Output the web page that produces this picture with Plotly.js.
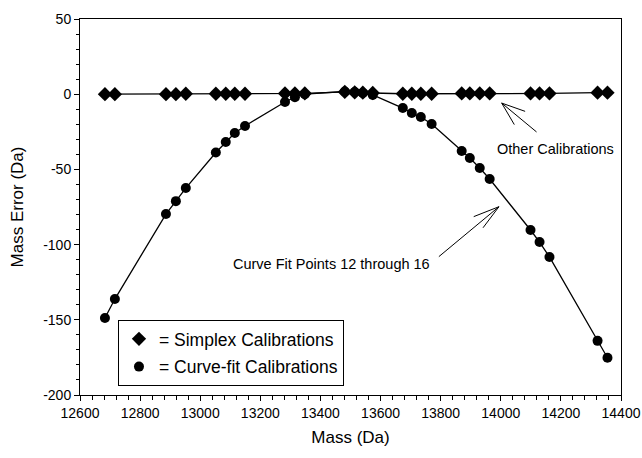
<!DOCTYPE html>
<html>
<head>
<meta charset="utf-8">
<script src="https://cdn.plot.ly/plotly-3.0.1.min.js"></script>
<style>html,body{margin:0;padding:0;background:#fff;}#chart{width:642px;height:458px;}</style>
</head>
<body>
<div id="chart"></div>
<script>
const mass = [12683, 12716, 12886, 12919, 12952, 13052, 13085, 13115, 13149, 13282, 13315, 13348,
  13481, 13514, 13541, 13574, 13674, 13704, 13734, 13770, 13870, 13897, 13930, 13963,
  14099, 14129, 14162, 14322, 14355];
const simplexError = [0, 0, 0, 0, 0.3, 0.3, 0.3, 0.3, 0.3, 0.5, 0.5, 0.5,
  1.5, 1.2, 1.0, 0.8, 0.3, 0.3, 0.3, 0.3, 0.5, 0.5, 0.5, 0.5,
  0.5, 0.5, 0.5, 1.0, 1.0];
const curveFitError = [-148.8, -136.2, -79.7, -71.1, -62.4, -38.8, -31.8, -25.8, -21.1, -5.2, -2, 0,
  1.8, 1.5, 0.8, -0.5, -9.2, -12.5, -15.2, -19.8, -37.8, -42.4, -49.1, -56.4,
  -90.3, -98.3, -108.2, -164, -175.2];
const yTickVals = [50, 0, -50, -100, -150, -200];
const yTickText = ["50", "0", "-50", "-100", "-150", "-200"];
const seriesNames = ["= Simplex Calibrations", "= Curve-fit Calibrations"];
const xTitle = "Mass (Da)";
const yTitle = "Mass Error (Da)";
const noteOther = "Other Calibrations";
const noteCurve = "Curve Fit Points 12 through 16";

const FONT = "Liberation Sans, Arial, Helvetica, sans-serif";

const traces = [
  {x: mass, y: curveFitError, mode: "lines+markers", showlegend: false,
   line: {color: "#000", width: 1.3}, marker: {symbol: "circle", size: 10, color: "#000"}},
  {x: mass, y: simplexError, mode: "lines+markers", showlegend: false,
   line: {color: "#000", width: 1.3}, marker: {symbol: "diamond", size: 11, color: "#000"}},
  {x: [null], y: [null], mode: "markers", name: seriesNames[0], legendgroup: "a",
   marker: {symbol: "diamond", size: 11, color: "#000"}},
  {x: [null], y: [null], mode: "markers", name: seriesNames[1], legendgroup: "b",
   marker: {symbol: "circle", size: 10, color: "#000"}}
];

function arrowShapes(tip, tail, a1, a2) {
  const s = {type: "line", xref: "x", yref: "y", line: {color: "#000", width: 1}};
  return [
    Object.assign({}, s, {x0: tail[0], y0: tail[1], x1: tip[0], y1: tip[1]}),
    Object.assign({}, s, {x0: tip[0], y0: tip[1], x1: a1[0], y1: a1[1]}),
    Object.assign({}, s, {x0: tip[0], y0: tip[1], x1: a2[0], y1: a2[1]})
  ];
}

const layout = {
  width: 642, height: 458,
  margin: {l: 80, r: 20.5, t: 19, b: 63, pad: 0},
  paper_bgcolor: "#fff", plot_bgcolor: "#fff",
  font: {family: FONT, color: "#000", size: 12},
  xaxis: {
    range: [12600, 14400], dtick: 200, tick0: 12600, tickformat: "d",
    showgrid: false, zeroline: false, showline: true, linecolor: "#000", linewidth: 1, mirror: true,
    ticks: "outside", ticklen: 5, tickwidth: 1, tickcolor: "#000",
    minor: {dtick: 40, ticks: "outside", ticklen: 4, tickwidth: 1, tickcolor: "#000", showgrid: false},
    tickfont: {size: 14, family: FONT},
    title: {text: xTitle, font: {size: 17, family: FONT}, standoff: 11}
  },
  yaxis: {
    range: [-200, 50], tickmode: "array", tickvals: yTickVals, ticktext: yTickText,
    showgrid: false, zeroline: false, showline: true, linecolor: "#000", linewidth: 1, mirror: true,
    ticks: "outside", ticklen: 5, tickwidth: 1, tickcolor: "#000",
    minor: {dtick: 10, tick0: 0, ticks: "outside", ticklen: 3, tickwidth: 1, tickcolor: "#000", showgrid: false},
    tickfont: {size: 14, family: FONT},
    title: {text: yTitle, font: {size: 17, family: FONT}, standoff: 15}
  },
  showlegend: true,
  legend: {
    x: 0.0702, y: 0.1995, xanchor: "left", yanchor: "top",
    bgcolor: "#fff", bordercolor: "#000", borderwidth: 1,
    font: {size: 17.5, family: FONT}, tracegroupgap: 2, itemwidth: 30
  },
  annotations: [
    {x: 14182, y: -36.6, xref: "x", yref: "y", text: noteOther, showarrow: false,
     font: {size: 14.5, family: FONT}},
    {x: 13438, y: -113, xref: "x", yref: "y", text: noteCurve, showarrow: false,
     font: {size: 14.5, family: FONT}}
  ],
  shapes: [].concat(
    arrowShapes([14003, -5.9], [14119, -25.1], [14081, -11.4], [14045, -20.2]),
    arrowShapes([13994, -74.8], [13794, -108], [13910, -81.4], [13941, -88.8])
  )
};

Plotly.newPlot("chart", traces, layout, {displayModeBar: false, staticPlot: true});
</script>
</body>
</html>
